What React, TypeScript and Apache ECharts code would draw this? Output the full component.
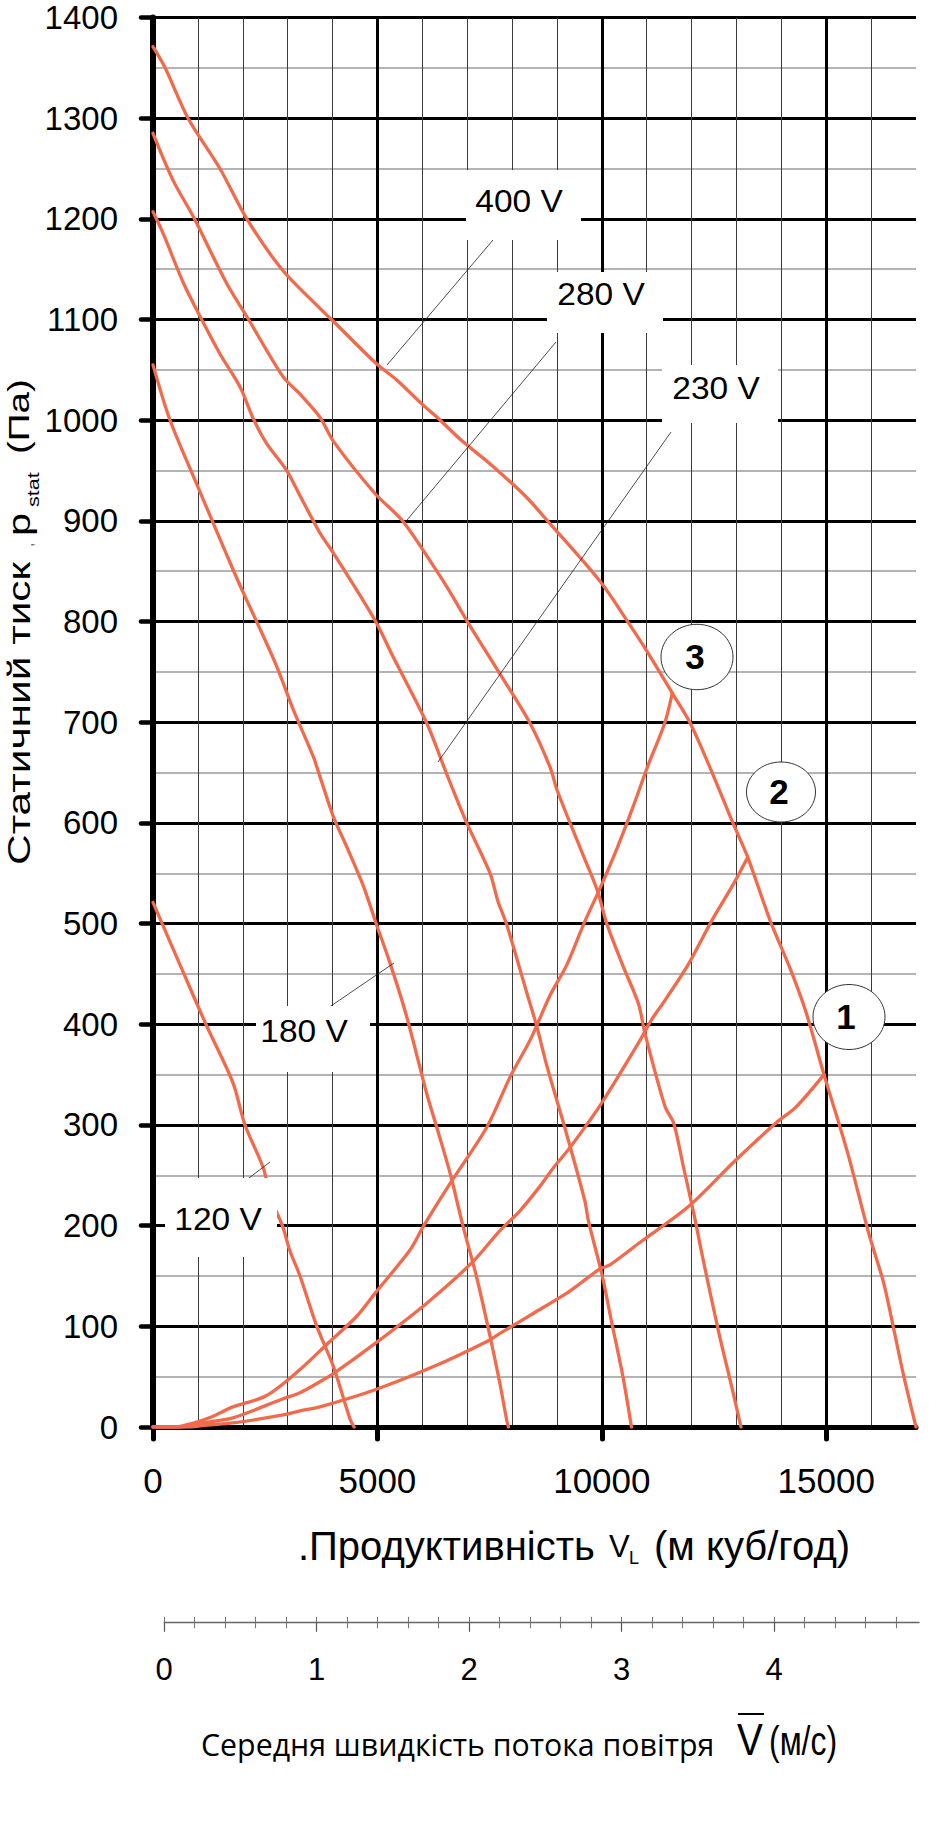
import React, { useEffect, useRef } from "react";
import * as echarts from "echarts";

// Fan characteristics: airflow (m³/h) vs static pressure (Pa) for each supply voltage
const fan400V = [[0,1371],[270,1350],[780,1300],[1490,1250],[2090,1200],[2870,1150],[3720,1111],[4000,1099],[4980,1056],[5430,1040],[5970,1017],[6400,1000],[6870,980],[7500,957],[8310,924],[8770,901],[9960,840],[10560,801],[11000,771],[11570,729],[11970,699],[12410,655],[12930,599],[13250,566],[13750,503],[14190,456],[14550,412],[14950,350],[15460,275],[15950,192],[16280,143],[16510,96],[16730,50],[17000,0]];
const fan280V = [[0,1285],[450,1238],[900,1202],[1640,1136],[2090,1103],[2900,1043],[3275,1026],[3720,1003],[4020,979],[4950,927],[5580,899],[6540,835],[6990,801],[7730,748],[8400,699],[8850,655],[9000,633],[9510,576],[9900,533],[10110,500],[10480,457],[10820,420],[10960,391],[11410,318],[11600,302],[11820,258],[12050,212],[12230,172],[12610,93],[12910,37],[13100,0]];
const fan230V = [[0,1207],[230,1185],[680,1136],[1050,1103],[1490,1066],[1940,1033],[2240,1001],[2530,977],[2980,950],[3275,925],[3720,888],[4020,868],[4950,801],[5350,765],[6100,699],[6540,649],[6990,600],[7510,550],[7680,523],[7880,499],[8330,431],[8550,398],[8780,358],[9190,295],[9620,225],[9700,205],[10000,152],[10210,106],[10470,50],[10660,0]];
const fan180V = [[0,1055],[380,1000],[970,937],[1340,898],[1790,851],[2090,821],[2310,800],[2760,755],[3130,712],[3570,666],[3720,646],[4020,606],[4320,576],[4690,537],[4980,499],[5280,461],[5650,408],[6100,331],[6320,298],[6620,252],[6910,199],[7210,149],[7510,90],[7730,43],[7880,7],[7920,0]];
const fan120V = [[0,521],[670,452],[1200,398],[1780,342],[2050,300],[2460,257],[2610,229],[2890,199],[3050,175],[3275,150],[3650,100],[4020,60],[4390,8],[4480,0]];

// Duct (system) resistance curves 1–3
const system1 = [[0,0],[800,0],[1200,2],[1780,4],[2900,12],[3275,16],[3720,20],[4950,37],[6250,60],[7440,85],[7730,93],[8480,113],[9220,133],[9530,143],[9960,157],[10180,161],[10870,184],[11930,219],[12980,265],[13880,302],[14330,318],[14950,350]];
const system2 = [[0,0],[600,0],[1000,3],[1400,6],[1780,9],[2900,28],[3275,34],[3720,45],[4020,53],[4950,83],[6100,123],[7100,163],[7730,195],[8180,215],[8620,239],[8930,258],[9280,277],[9970,320],[10850,384],[11100,404],[11410,424],[11920,459],[12450,503],[12940,540],[13250,566]];
const system3 = [[0,0],[500,0],[900,4],[1300,10],[1780,20],[2520,31],[3275,57],[3870,82],[4540,110],[4950,133],[5730,176],[6020,199],[6620,242],[7440,298],[7960,348],[8410,385],[8850,429],[9220,459],[9610,501],[9970,536],[10350,576],[10720,619],[11020,656],[11400,699],[11570,729]];

const voltageNames = ["400 V", "280 V", "230 V", "180 V", "120 V"];
const systemNames = ["1", "2", "3"];

const flowMax = 17000;
const flowTickValues = [0, 5000, 10000, 15000];
const pressureMax = 1400;

const speedMax = 4.95;
const speedTickValues = [0, 1, 2, 3, 4];
const speedMinorValues = [0.2, 0.4, 0.6, 0.8, 1.2, 1.4, 1.6, 1.8, 2.2, 2.4, 2.6, 2.8, 3.2, 3.4, 3.6, 3.8, 4.2, 4.4, 4.6, 4.8];

const SANS = '"Liberation Sans", Arial, Helvetica, sans-serif';
const CURVE = "#F26A4B";

// Callout layout (pixels): white box, label centre, leader line
const voltageCallouts = [
  { box: [466, 170, 115, 70], label: [519, 201], leader: [493, 240, 387, 365] },
  { box: [547, 272, 116, 61], label: [601, 294], leader: [556, 342, 407, 520] },
  { box: [662, 365, 116, 58], label: [716, 388], leader: [671, 432, 438, 762] },
  { box: [256, 1006, 114, 66], label: [304, 1031], leader: [325, 1010, 394, 963] },
  { box: [165, 1178, 112, 79], label: [218, 1219], leader: [220, 1200, 270, 1162] },
];
const systemBadges = [
  { ellipse: [849, 1017, 36, 32.5], label: [846, 1016] },
  { ellipse: [781, 792, 34.5, 30], label: [779, 791] },
  { ellipse: [697, 657, 36, 32.7], label: [695, 656] },
];

const plain = (v: number) => String(v);

function textEl(x: number, y: number, text: string, size: number, extra: any = {}) {
  const { family, weight, align, scaleX, fill, ...rest } = extra;
  return {
    type: "text",
    x,
    y,
    scaleX: scaleX ?? 1,
    ...rest,
    style: {
      text,
      fontSize: size,
      fontFamily: family ?? SANS,
      fontWeight: weight ?? "normal",
      fill: fill ?? "#000",
      align: align ?? "left",
      textAlign: align ?? "left",
      verticalAlign: "middle",
      textVerticalAlign: "middle",
    },
  };
}

function buildOption(): any {
  const curveSeries = (data: number[][], name: string) => ({
    type: "line",
    name,
    xAxisIndex: 0,
    yAxisIndex: 0,
    data,
    showSymbol: false,
    symbol: "none",
    silent: true,
    clip: true,
    smooth: 0.3,
    z: 3,
    lineStyle: { color: CURVE, width: 3.3, join: "round", cap: "round" },
  });

  const fans = [fan400V, fan280V, fan230V, fan180V, fan120V];
  const systems = [system1, system2, system3];

  const graphic: any[] = [];

  voltageCallouts.forEach((c, i) => {
    graphic.push({
      type: "line",
      z: 9,
      shape: { x1: c.leader[0], y1: c.leader[1], x2: c.leader[2], y2: c.leader[3] },
      style: { stroke: "#222", lineWidth: 0.8 },
    });
    graphic.push({
      type: "rect",
      z: 10,
      shape: { x: c.box[0], y: c.box[1], width: c.box[2], height: c.box[3] },
      style: { fill: "#fff" },
    });
    graphic.push({ ...textEl(c.label[0], c.label[1], voltageNames[i], 31, { align: "center", scaleX: 1.08 }), z: 11 });
  });

  systemBadges.forEach((b, i) => {
    graphic.push({
      type: "ellipse",
      z: 1,
      shape: { cx: b.ellipse[0], cy: b.ellipse[1], rx: b.ellipse[2], ry: b.ellipse[3] },
      style: { fill: "#fff", stroke: "#333", lineWidth: 1 },
    });
    graphic.push({ ...textEl(b.label[0], b.label[1], systemNames[i], 35, { align: "center", weight: "bold" }), z: 1 });
  });

  // Vertical axis title, read bottom to top
  graphic.push({
    type: "group",
    x: 19,
    y: 865,
    rotation: Math.PI / 2,
    children: [
      textEl(0, 0, "Статичний тиск", 31, { scaleX: 1.37 }),
      textEl(318, 8, ",", 16, { fill: "#666" }),
      textEl(329, 0, "p", 31, { scaleX: 1.34 }),
      textEl(358, 15, "stat", 16, { scaleX: 1.35 }),
      textEl(411, 0, "(Па)", 29, { scaleX: 1.33 }),
    ],
  });

  // Horizontal axis title
  graphic.push(textEl(298, 1546, ".Продуктивність", 40));
  graphic.push(textEl(609, 1546, "V", 31));
  graphic.push(textEl(629, 1558, "L", 18));
  graphic.push(textEl(654, 1546, "(м куб/год)", 40));

  // Mean air velocity scale title
  graphic.push(textEl(201, 1744, "Середня швидкість потока повітря", 30.3, { family: '"Open Sans", "Noto Sans", sans-serif' }));
  graphic.push(textEl(737, 1740, "V", 44, { scaleX: 0.88 }));
  graphic.push({
    type: "line",
    shape: { x1: 738, y1: 1714, x2: 764, y2: 1714 },
    style: { stroke: "#000", lineWidth: 2 },
  });
  graphic.push(textEl(769, 1741, "(м/с)", 41, { scaleX: 0.78 }));

  const speedAxisBase = {
    type: "value",
    gridIndex: 1,
    min: 0,
    max: speedMax,
    position: "bottom",
    splitLine: { show: false },
    minorSplitLine: { show: false },
  };

  return {
    animation: false,
    backgroundColor: "#fff",
    grid: [
      { left: 153, top: 17.5, width: 763, height: 1409.5, outerBoundsMode: "none", containLabel: false },
      { left: 164.2, top: 1600, width: 754.9, height: 22.3, outerBoundsMode: "none", containLabel: false },
    ],
    xAxis: [
      {
        type: "value",
        gridIndex: 0,
        min: 0,
        max: flowMax,
        interval: 5000,
        axisLine: { show: true, onZero: false, lineStyle: { color: "#000", width: 5 } },
        axisTick: { show: true, length: 12, customValues: flowTickValues, lineStyle: { color: "#000", width: 5, cap: "round" } },
        axisLabel: { customValues: flowTickValues, margin: 36, fontSize: 35, fontFamily: SANS, color: "#000", formatter: plain },
        splitLine: { show: true, lineStyle: { color: "#000", width: 3 } },
        minorTick: { show: false, splitNumber: 5 },
        minorSplitLine: { show: true, lineStyle: { color: "#3a3a3a", width: 1 } },
      },
      {
        ...speedAxisBase,
        axisLine: { show: true, onZero: false, lineStyle: { color: "#666", width: 1.3 } },
        axisTick: { show: true, length: 9.5, customValues: speedTickValues, lineStyle: { color: "#555", width: 1.2 } },
        axisLabel: { show: true, customValues: speedTickValues, margin: 32, fontSize: 31, fontFamily: SANS, color: "#000", formatter: plain },
      },
      {
        ...speedAxisBase,
        axisLine: { show: false },
        axisTick: { show: true, length: 6, customValues: speedMinorValues, lineStyle: { color: "#777", width: 1.1 } },
        axisLabel: { show: false },
      },
      {
        ...speedAxisBase,
        axisLine: { show: false },
        axisTick: { show: true, inside: true, length: 5.5, customValues: [...speedTickValues, ...speedMinorValues], lineStyle: { color: "#777", width: 1.1 } },
        axisLabel: { show: false },
      },
    ],
    yAxis: [
      {
        type: "value",
        gridIndex: 0,
        min: 0,
        max: pressureMax,
        interval: 100,
        axisLine: { show: true, onZero: false, lineStyle: { color: "#000", width: 6 } },
        axisTick: { show: true, length: 12, lineStyle: { color: "#000", width: 4.5, cap: "round" } },
        axisLabel: { margin: 35, fontSize: 33, fontFamily: SANS, color: "#000", formatter: plain },
        splitLine: { show: true, lineStyle: { color: "#000", width: 3 } },
        minorTick: { show: false, splitNumber: 2 },
        minorSplitLine: { show: true, lineStyle: { color: "#9b9b9b", width: 1.5 } },
      },
      { type: "value", gridIndex: 1, show: false, min: 0, max: 1 },
    ],
    series: [
      ...fans.map((d, i) => curveSeries(d, voltageNames[i])),
      ...systems.map((d, i) => curveSeries(d, systemNames[i])),
    ],
    graphic,
  };
}

export default function App() {
  const ref = useRef<HTMLDivElement>(null);
  useEffect(() => {
    const el = ref.current;
    if (!el) return;
    const chart = echarts.init(el, null, { renderer: "svg" });
    chart.setOption(buildOption());
    return () => chart.dispose();
  }, []);
  return (
    <div
      ref={ref}
      style={{ position: "absolute", left: 0, top: 0, width: 929, height: 1844, background: "#fff" }}
    />
  );
}
